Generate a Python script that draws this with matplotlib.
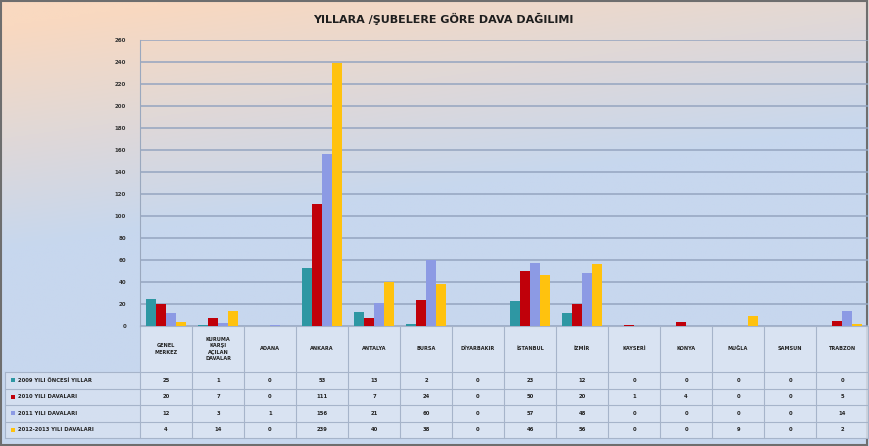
import numpy as np
import matplotlib
matplotlib.use("Agg")
import matplotlib.pyplot as plt
from matplotlib.colors import to_rgb
from matplotlib.transforms import blended_transform_factory
from matplotlib.patches import Rectangle

# categories (branches)
categories = ["GENEL\nMERKEZ", "KURUMA\nKARŞI\nAÇILAN\nDAVALAR", "ADANA", "ANKARA",
              "ANTALYA", "BURSA", "DİYARBAKIR", "İSTANBUL", "İZMİR", "KAYSERİ",
              "KONYA", "MUĞLA", "SAMSUN", "TRABZON"]

series_names = ["2009 YILI ÖNCESİ YILLAR", "2010 YILI DAVALARI",
                "2011 YILI DAVALARI", "2012-2013 YILI DAVALARI"]

s2009 = [25, 1, 0, 53, 13, 2, 0, 23, 12, 0, 0, 0, 0, 0]
s2010 = [20, 7, 0, 111, 7, 24, 0, 50, 20, 1, 4, 0, 0, 5]
s2011 = [12, 3, 1, 156, 21, 60, 0, 57, 48, 0, 0, 0, 0, 14]
s2012 = [4, 14, 0, 239, 40, 38, 0, 46, 56, 0, 0, 9, 0, 2]

series = [s2009, s2010, s2011, s2012]
colors = ["#2E97A3", "#C0000A", "#8C9AE4", "#FFC20E"]

y_ticks = list(range(0, 261, 20))

W, H = 869, 446
fig = plt.figure(figsize=(W / 100, H / 100), dpi=100)

# background gradient: peach at the top fading into light blue
bg = fig.add_axes([0, 0, 1, 1], zorder=-10)
bg.set_axis_off()
yy, xx = np.mgrid[0:1:200j, 0:1:400j]
t = np.clip(yy * 2.0 + xx * 0.55 - 0.12, 0, 1)
peach = np.array(to_rgb("#F9D9C0"))
blue = np.array(to_rgb("#C7D7EE"))
img = peach[None, None, :] * (1 - t[..., None]) + blue[None, None, :] * t[..., None]
bg.imshow(img, aspect="auto", extent=(0, 1, 0, 1), origin="upper")
bg.set_xlim(0, 1)
bg.set_ylim(0, 1)
bg.add_patch(Rectangle((0.001, 0.002), 0.997, 0.995, fill=False,
                       edgecolor="#6E6E6E", linewidth=1.5))

x0, y0 = 140 / W, (H - 326) / H
ax = fig.add_axes([x0, y0, 1 - x0 - 0.001, 286 / H])
ax.patch.set_alpha(0)

n = len(categories)
x = np.arange(n)
bw = 0.19
for i, (vals, c) in enumerate(zip(series, colors)):
    ax.bar(x + (i - 1.5) * bw, vals, width=bw, color=c, zorder=3, linewidth=0)

ax.set_xlim(-0.5, n - 0.5)
ax.set_ylim(0, 260)
ax.set_yticks(y_ticks)
ax.set_yticklabels([str(v) for v in y_ticks], fontsize=4, fontweight="bold",
                   color="#333333")
ax.tick_params(axis="y", length=0, pad=10)
ax.set_xticks([])
ax.yaxis.grid(True, color="#95A5C0", linewidth=1.1, zorder=0)
for s in ["top", "right", "bottom"]:
    ax.spines[s].set_visible(False)
ax.spines["left"].set_color("#9AA8BE")
ax.spines["left"].set_linewidth(0.8)

# data table below the axis
tr = blended_transform_factory(ax.transData, ax.transAxes)
px = 1 / 286  # one pixel in axes units (vertical)
header_top, header_bot = 0, -46 * px
row_h = 16.5 * px
table_bot = header_bot - 4 * row_h
left_edge = -0.5 - (x0 * W - 5) / (729 / n)

ax.add_patch(Rectangle((-0.5, table_bot), n, -table_bot, transform=tr,
                       facecolor="#DDE6F3", edgecolor="none", clip_on=False,
                       zorder=1, alpha=0.85))
ax.add_patch(Rectangle((left_edge, table_bot), -0.5 - left_edge,
                       header_bot - table_bot, transform=tr,
                       facecolor="#DDE6F3", edgecolor="none",
                       clip_on=False, zorder=1, alpha=0.6))

line_kw = dict(transform=tr, clip_on=False, color="#A6B4CA", linewidth=0.8, zorder=2)
for k in range(n + 1):
    ax.plot([k - 0.5, k - 0.5], [header_top, table_bot], **line_kw)
ax.plot([left_edge, left_edge], [header_bot, table_bot], **line_kw)
for r in range(5):
    yl = header_bot - r * row_h
    ax.plot([left_edge, n - 0.5], [yl, yl], **line_kw)
ax.plot([-0.5, n - 0.5], [header_top, header_top], **line_kw)

for k, name in enumerate(categories):
    ax.text(k, (header_top + header_bot) / 2, name, transform=tr, ha="center",
            va="center", fontsize=3.6, fontweight="bold", color="#222222",
            linespacing=1.35, clip_on=False)

for r, (name, vals, c) in enumerate(zip(series_names, series, colors)):
    yc = header_bot - (r + 0.5) * row_h
    ax.add_patch(Rectangle((left_edge + 0.12, yc - 2.2 * px), 0.07, 4.4 * px,
                           transform=tr, facecolor=c, edgecolor="none",
                           clip_on=False, zorder=3))
    ax.text(left_edge + 0.24, yc, name, transform=tr, ha="left", va="center",
            fontsize=3.8, fontweight="bold", color="#222222", clip_on=False)
    for k, v in enumerate(vals):
        ax.text(k, yc, str(v), transform=tr, ha="center", va="center",
                fontsize=3.8, fontweight="bold", color="#222222", clip_on=False)

fig.text(0.51, 0.958, "YILLARA /ŞUBELERE GÖRE DAVA DAĞILIMI", ha="center",
         va="center", fontsize=8, fontweight="bold", color="#1E1E1E")

fig.savefig("out.png", dpi=100)
